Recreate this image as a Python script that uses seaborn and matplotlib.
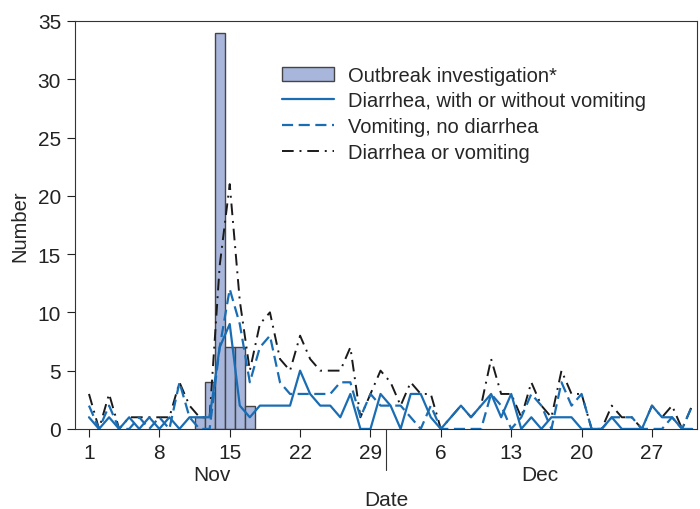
import numpy as np
import pandas as pd
import seaborn as sns
import matplotlib.pyplot as plt
from matplotlib.patches import Patch
from matplotlib.lines import Line2D

# day index 0 = Nov 1, 60 = Dec 31
days = list(range(61))

diarrhea = [1, 0, 1, 0, 1, 0, 1, 0, 1, 0,
            1, 1, 1, 7, 9, 2, 1, 2, 2, 2,
            2, 5, 3, 2, 2, 1, 3, 0, 0, 3,
            2, 0, 3, 3, 1, 0, 1, 2, 1, 2,
            3, 1, 3, 0, 1, 0, 1, 1, 1, 0,
            0, 0, 1, 0, 0, 0, 2, 1, 1, 0,
            0]
vomiting = [2, 0, 2, 0, 0, 1, 0, 1, 0, 4,
            1, 0, 0, 7, 12, 9, 4, 7, 8, 4,
            3, 3, 3, 3, 3, 4, 4, 1, 3, 2,
            2, 2, 1, 0, 2, 0, 0, 0, 0, 0,
            3, 2, 0, 1, 3, 2, 0, 4, 2, 3,
            0, 0, 1, 1, 1, 0, 0, 0, 1, 0,
            2]
either = [3, 0, 3, 0, 1, 1, 1, 1, 1, 4,
          2, 1, 1, 14, 21, 11, 5, 9, 10, 6,
          5, 8, 6, 5, 5, 5, 7, 1, 3, 5,
          4, 2, 4, 3, 3, 0, 1, 2, 1, 2,
          6, 3, 3, 1, 4, 2, 1, 5, 3, 3,
          0, 0, 2, 1, 1, 0, 2, 1, 2, 0,
          2]

outbreak_days = [11, 12, 13, 14, 15, 16]
outbreak_counts = [1, 4, 34, 7, 7, 2]

tick_days = [0, 7, 14, 21, 28, 35, 42, 49, 56]
tick_labels = ["1", "8", "15", "22", "29", "6", "13", "20", "27"]

df = pd.DataFrame({"day": days, "diarrhea": diarrhea,
                   "vomiting": vomiting, "either": either})

sns.set_style("ticks")
plt.rcParams['font.family'] = ['Liberation Sans', 'DejaVu Sans']

blue = "#1a6db3"
dash = (0, (5, 2.5))
dashdot = (0, (6, 3, 1, 3))
fig = plt.figure(figsize=(7, 5.1), dpi=100)
ax = fig.add_axes([0.107, 0.157, 0.889, 0.80])

ax.bar(outbreak_days, outbreak_counts, width=1.0, color="#a8b6dc",
       edgecolor="#444444", linewidth=1.0, zorder=1)

sns.lineplot(data=df, x="day", y="diarrhea", ax=ax, color=blue, lw=1.6, zorder=3)
sns.lineplot(data=df, x="day", y="vomiting", ax=ax, color=blue, lw=1.6,
             linestyle=dash, zorder=3)
sns.lineplot(data=df, x="day", y="either", ax=ax, color="#1a1a1a", lw=1.4,
             linestyle=dashdot, zorder=2)

ax.set_xlim(-1.4, 60.5)
ax.set_ylim(0, 35)
ax.set_yticks(range(0, 36, 5))
ax.set_xticks(tick_days)
ax.set_xticklabels(tick_labels)
ax.tick_params(labelsize=15, length=6, width=0.8, colors="#222222", pad=4)
for s in ax.spines.values():
    s.set_visible(True)
    s.set_linewidth(0.8)
    s.set_color("#333333")

ax.set_xlabel("Date", fontsize=15, labelpad=20)
ax.set_ylabel("Number", fontsize=14.5, labelpad=6)

# month labels and separator
ax.text(12.2, -3.9, "Nov", ha="center", va="center", fontsize=15, clip_on=False)
ax.text(44.8, -3.9, "Dec", ha="center", va="center", fontsize=15, clip_on=False)
ax.plot([29.5, 29.5], [0, -3.5], color="#333333", lw=0.8, clip_on=False)

handles = [
    Patch(facecolor="#a8b6dc", edgecolor="#444444", linewidth=1.0),
    Line2D([], [], color=blue, lw=1.6),
    Line2D([], [], color=blue, lw=1.6, linestyle=dash),
    Line2D([], [], color="#1a1a1a", lw=1.4, linestyle=dashdot),
]
labels = ["Outbreak investigation*", "Diarrhea, with or without vomiting",
          "Vomiting, no diarrhea", "Diarrhea or vomiting"]
ax.legend(handles, labels, loc="upper left", bbox_to_anchor=(0.333, 0.89),
          frameon=False, fontsize=14.5, handlelength=2.6, labelspacing=0.33,
          handletextpad=0.65, borderaxespad=0, borderpad=0)

fig.savefig("out.png", dpi=100)
